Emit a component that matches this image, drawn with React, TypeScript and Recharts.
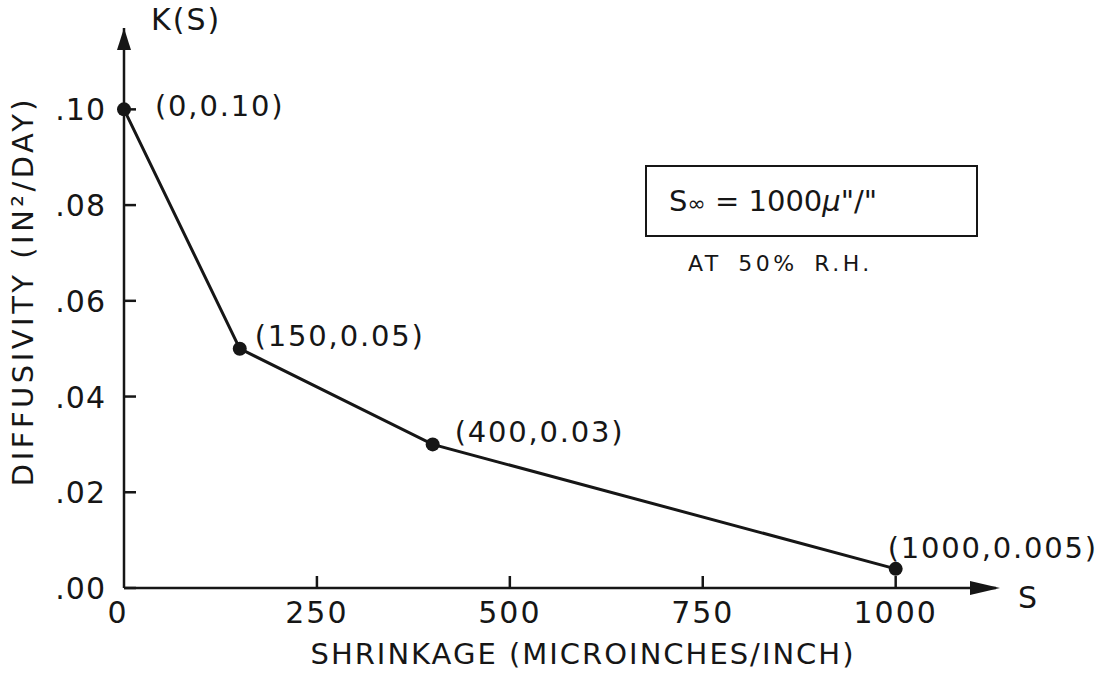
import {
  LineChart, Line, XAxis, YAxis, ReferenceDot, LabelList
} from 'recharts';

const shrinkage = [0, 150, 400, 1000];
const diffusivity = [0.1, 0.05, 0.03, 0.004];
const pointLabels = ['(0,0.10)', '(150,0.05)', '(400,0.03)', '(1000,0.005)'];

const xTicks = [0, 250, 500, 750, 1000];
const xTickLabels = ['0', '250', '500', '750', '1000'];
const yTicks = [0, 0.02, 0.04, 0.06, 0.08, 0.1];
const yTickLabels = ['.00', '.02', '.04', '.06', '.08', '.10'];

const data = shrinkage.map((s, i) => ({ s, k: diffusivity[i] }));

// where each point label sits relative to its dot
const labelOffsets = [
  [31, 7], [15, -3], [22, -2], [-8, -11],
];

const FONT = '"DejaVu Sans", sans-serif';
const INK = '#161616';

const YTick = (props: any) => {
  const { x, y, index } = props;
  return (
    <g>
      <line x1={x} x2={x + 12} y1={y} y2={y} stroke={INK} strokeWidth={2.5} />
      <text x={x - 18} y={y + 11} textAnchor="end" fontSize={30} letterSpacing={1} fill={INK} fontFamily={FONT}>
        {yTickLabels[index]}
      </text>
    </g>
  );
};

const XTick = (props: any) => {
  const { x, y, index } = props;
  return (
    <g>
      {index > 0 && <line x1={x} x2={x} y1={y} y2={y - 12} stroke={INK} strokeWidth={2.5} />}
      <text x={x - (index === 0 ? 6 : 0)} y={y + 35} textAnchor="middle" fontSize={30} letterSpacing={2} fill={INK} fontFamily={FONT}>
        {xTickLabels[index]}
      </text>
    </g>
  );
};

const Dot = (props: any) => {
  const { cx, cy } = props;
  return <circle cx={cx} cy={cy} r={7} fill={INK} />;
};

const PointLabel = (props: any) => {
  const { x, y, index } = props;
  const [dx, dy] = labelOffsets[index];
  return (
    <text x={x + dx} y={y + dy} fontSize={29} letterSpacing={1.8} fill={INK} fontFamily={FONT}>
      {pointLabels[index]}
    </text>
  );
};

const UpArrow = (props: any) => {
  const { cx, cy } = props;
  return (
    <g>
      <path d={`M${cx},${cy} L${cx - 7},${cy + 22} L${cx + 7},${cy + 22} Z`} fill={INK} />
      <text x={cx + 27} y={cy + 2} fontSize={30} letterSpacing={2} fill={INK} fontFamily={FONT}>K(S)</text>
    </g>
  );
};

const RightArrow = (props: any) => {
  const { cx, cy } = props;
  return (
    <g>
      <path d={`M${cx + 4},${cy} L${cx - 26},${cy - 7} L${cx - 26},${cy + 7} Z`} fill={INK} />
      <text x={cx + 22} y={cy + 20} fontSize={30} fill={INK} fontFamily={FONT}>S</text>
    </g>
  );
};

const App = () => {
  return (
    <div style={{ position: 'absolute', left: 0, top: 0, width: 1104, height: 682, background: '#fff' }}>
      <LineChart width={1104} height={682} data={data} margin={{ top: 28, right: 108, bottom: 0, left: 0 }}>
        <XAxis
          dataKey="s"
          type="number"
          domain={[0, 1130]}
          ticks={xTicks}
          height={94}
          tickSize={0}
          tickMargin={0}
          tickLine={false}
          axisLine={{ stroke: INK, strokeWidth: 2.5 }}
          tick={<XTick />}
          label={{
            content: ({ viewBox }: any) => (
              <text x={viewBox.x + viewBox.width / 2 + 23} y={viewBox.y + 76} textAnchor="middle"
                fontSize={29} letterSpacing={2} fill={INK} fontFamily={FONT}>
                SHRINKAGE (MICROINCHES/INCH)
              </text>
            ),
          }}
        />
        <YAxis
          type="number"
          domain={[0, 0.117]}
          ticks={yTicks}
          width={124}
          tickSize={0}
          tickMargin={0}
          tickLine={false}
          axisLine={{ stroke: INK, strokeWidth: 2.5 }}
          tick={<YTick />}
          label={{
            content: ({ viewBox }: any) => {
              const cx = 23;
              const cy = viewBox.y + viewBox.height / 2 - 17;
              return (
                <text x={cx} y={cy} transform={`rotate(-90 ${cx} ${cy})`} textAnchor="middle"
                  dominantBaseline="central" fontSize={29} letterSpacing={3.5} fill={INK} fontFamily={FONT}>
                  DIFFUSIVITY (IN²/DAY)
                </text>
              );
            },
          }}
        />
        <Line
          type="linear"
          dataKey="k"
          stroke={INK}
          strokeWidth={3}
          dot={<Dot />}
          activeDot={false}
          isAnimationActive={false}
        >
          <LabelList dataKey="k" content={<PointLabel />} />
        </Line>
        <ReferenceDot x={0} y={0.117} ifOverflow="visible" shape={<UpArrow />} />
        <ReferenceDot x={1130} y={0} ifOverflow="visible" shape={<RightArrow />} />
      </LineChart>
      <div
        style={{
          position: 'absolute', left: 645, top: 165, width: 333, height: 72,
          border: `2.5px solid ${INK}`, boxSizing: 'border-box',
          fontFamily: FONT, fontSize: 29, color: INK,
          display: 'flex', alignItems: 'center', paddingLeft: 22,
        }}
      >
        <span>S<span style={{ fontSize: 22 }}>∞</span> = 1000<i>μ</i>"/"</span>
      </div>
      <div
        style={{
          position: 'absolute', left: 688, top: 251, fontFamily: FONT, fontSize: 22,
          letterSpacing: 3.5, wordSpacing: 6, color: INK, whiteSpace: 'nowrap',
        }}
      >
        AT 50% R.H.
      </div>
    </div>
  );
};

export default App;
